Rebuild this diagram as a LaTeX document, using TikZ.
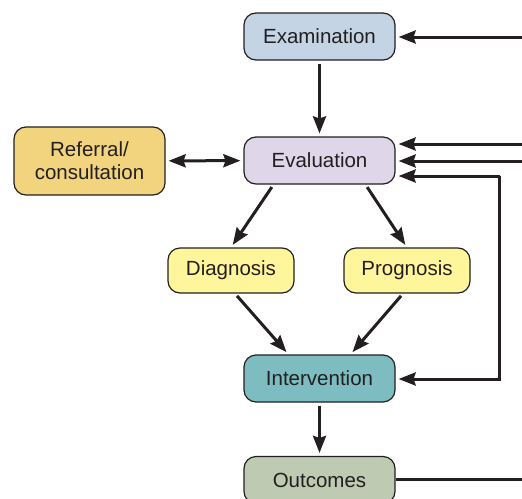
\documentclass[tikz,border=0pt]{standalone}
\usepackage{fontspec}
\setmainfont{Liberation Sans}
\usetikzlibrary{arrows.meta}

\definecolor{exam}{HTML}{C4D4E5}
\definecolor{evalc}{HTML}{DFD6EA}
\definecolor{refer}{HTML}{F2D47F}
\definecolor{diag}{HTML}{FFF59B}
\definecolor{interv}{HTML}{7DBCC1}
\definecolor{outc}{HTML}{BFCAB2}
\definecolor{ink}{HTML}{231F20}

\tikzset{
  stage/.style={draw=ink, line width=1.2pt, rounded corners=12pt, align=center,
    minimum width=151pt, minimum height=47pt, inner sep=0pt, text=ink,
    font=\fontsize{20.5}{23}\selectfont},
  smallstage/.style={stage, minimum width=126pt, minimum height=45pt},
  flow/.style={draw=ink, line width=3pt, -{Stealth[length=17pt,width=13pt,inset=2pt]},
    shorten >=3pt, shorten <=3pt},
  feed/.style={draw=ink, line width=3pt}
}

\begin{document}
\begin{tikzpicture}[x=1pt,y=-1pt]
      \useasboundingbox (0,0) rectangle (522,498);
      \clip (0,0) rectangle (522,498);
      \node[stage, fill=exam] (exam) at (319.5,36.5) {Examination};
      \node[stage, fill=evalc] (eval) at (319.5,160.5) {Evaluation};
      \node[stage, fill=refer, minimum height=68pt] (refer) at (89.5,161) {Referral/\\consultation};
      \node[smallstage, fill=diag] (diag) at (231,270.5) {Diagnosis};
      \node[smallstage, fill=diag] (prog) at (407,270.5) {Prognosis};
      \node[stage, fill=interv] (interv) at (319.5,378.5) {Intervention};
      \node[stage, fill=outc] (outc) at (319.5,480) {Outcomes};

      \coordinate (inA) at (523,37);
      \coordinate (inB) at (523,144);
      \coordinate (inC) at (523,161);
      \coordinate (loopT) at (499.5,176);
      \coordinate (loopB) at (499.5,379);
      \coordinate (outR) at (523,479);

      % main line
      \draw[flow] (exam) -- (eval);
      \draw[flow] (eval.south) ++(-46,0) coordinate (evalL) -- (diag.north);
      \draw[flow] (eval.south) ++(46,0) coordinate (evalR) -- (prog.north);
      \draw[flow] ([xshift=4pt]diag.south) -- ([xshift=-31pt]interv.north);
      \draw[flow] ([xshift=-4pt]prog.south) -- ([xshift=31pt]interv.north);
      \draw[flow] (interv) -- (outc);
      \draw[flow, {Stealth[length=17pt,width=13pt,inset=2pt]}-{Stealth[length=17pt,width=13pt,inset=2pt]}] (refer) -- (eval);

      % inputs from the right
      \draw[flow, shorten <=0pt] (inA) -- (exam.east |- inA);
      \draw[flow, shorten <=0pt] (inB) -- (eval.east |- inB);
      \draw[flow, shorten <=0pt] (inC) -- (eval.east |- inC);
      \draw[flow, shorten <=0pt] (loopT) -- (eval.east |- loopT);
      \draw[flow, shorten <=0pt] (loopT) -- (loopB) -- (interv.east |- loopB);
      \draw[feed] (outc.east |- outR) -- (outR);
    \end{tikzpicture}
\end{document}
